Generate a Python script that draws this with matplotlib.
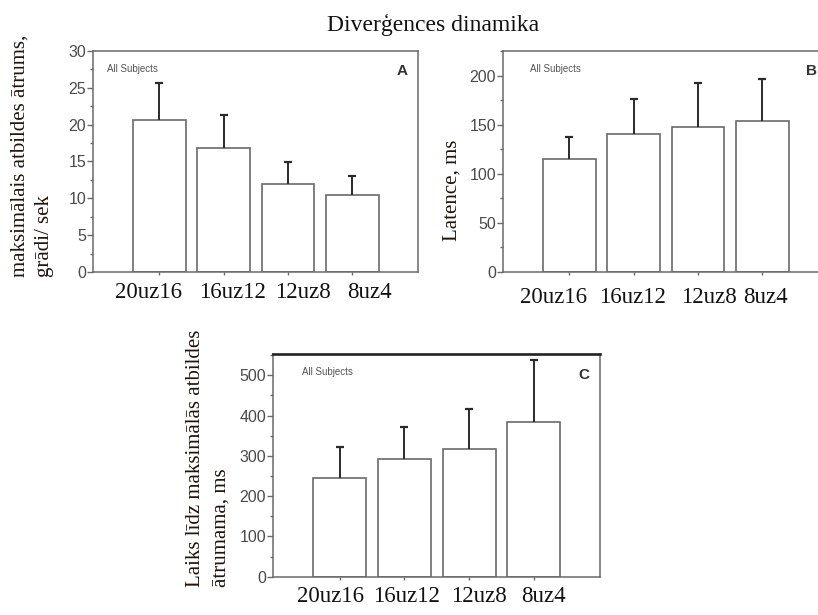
import numpy as np
import matplotlib
matplotlib.use("Agg")
import matplotlib.pyplot as plt
from matplotlib.ticker import MultipleLocator, AutoMinorLocator
from matplotlib.transforms import blended_transform_factory

# data
groups = ["20uz16", "16uz12", "12uz8", "8uz4"]

speed = [20.6, 16.9, 11.9, 10.4]
speed_err = [5.0, 4.4, 3.0, 2.6]

latency = [115, 140, 148, 154]
latency_err = [22, 36, 44, 42]

peak_time = [244, 292, 316, 385]
peak_time_err = [78, 80, 100, 153]

title = "Diverģences dinamika"
ylabel_a = "maksimālais atbildes ātrums,\ngrādi/ sek"
ylabel_b = "Latence, ms"
ylabel_c = "Laiks līdz maksimālās atbildes\nātrumama, ms"

SERIF = ["Liberation Serif", "DejaVu Serif"]
SANS = ["Liberation Sans", "DejaVu Sans"]
EDGE = "#6a6a6a"
TICK_TXT = "#4a4a4a"
LABEL_COL = "#20140c"


def draw_panel(fig, rect, values, errors, ylim, major, letter,
               subj_x, label_pos, label_y):
    """Draw one bar panel with one-sided error bars."""
    ax = fig.add_axes(rect)
    x = np.arange(len(values))
    ax.bar(x, values, width=0.82, color="white", edgecolor=EDGE,
           linewidth=1.2, zorder=2)
    eb = ax.errorbar(x, values, yerr=[np.zeros(len(errors)), errors],
                     fmt="none", ecolor="#2a2a2a", elinewidth=1.4,
                     capsize=2.6, capthick=1.6, zorder=3)
    # hide the lower caps (they sit on the bar tops)
    for cap in eb[1]:
        if np.allclose(cap.get_ydata(), values):
            cap.set_visible(False)

    ax.set_xlim(-1.03, 4.02)
    ax.set_ylim(*ylim)
    ax.yaxis.set_major_locator(MultipleLocator(major))
    ax.yaxis.set_minor_locator(AutoMinorLocator(2))
    ax.set_xticks(x)
    ax.tick_params(axis="x", length=2.5, width=1, color=EDGE,
                   labelbottom=False)
    ax.tick_params(axis="y", which="major", length=4, width=1,
                   color=EDGE, labelsize=11.5, labelcolor=TICK_TXT, pad=1)
    ax.tick_params(axis="y", which="minor", length=2, width=1, color=EDGE)
    for lab in ax.get_yticklabels():
        lab.set_family(SANS)
    for sp in ax.spines.values():
        sp.set_color(EDGE)
        sp.set_linewidth(1.1)

    ax.text(subj_x, 0.92, "All Subjects", transform=ax.transAxes,
            fontsize=7, color="#555555", va="center", family=SANS)
    ax.text(0.95, 0.908, letter, transform=ax.transAxes, fontsize=11,
            fontweight="bold", color="#333333", ha="center", va="center",
            family=SANS)

    tr = blended_transform_factory(ax.transData, fig.transFigure)
    for pos, name in zip(label_pos, groups):
        ax.text(pos, label_y, name, transform=tr, ha="center", va="center",
                fontsize=16.5, family=SERIF, color="#111111")
    return ax


def main():
    fig = plt.figure(figsize=(8.18, 6.15), dpi=100)

    draw_panel(fig, [0.1137, 0.5577, 0.3973, 0.3594], speed, speed_err,
               (0, 30), 5, "A", 0.043, [-0.16, 1.13, 2.23, 3.26], 0.5236)
    draw_panel(fig, [0.6149, 0.5577, 0.3973, 0.3594], latency, latency_err,
               (0, 225), 50, "B", 0.083, [-0.24, 0.98, 2.17, 3.05], 0.517)
    ax_c = draw_panel(fig, [0.3337, 0.0623, 0.3998, 0.3616], peak_time,
                      peak_time_err, (0, 552), 100, "C", 0.088,
                      [-0.14, 1.03, 2.15, 3.15], 0.0293)
    ax_c.spines["top"].set_color("#222222")
    ax_c.spines["top"].set_linewidth(1.9)

    fig.text(0.53, 0.959, title, ha="center", va="center", fontsize=17,
             family=SERIF, color="#111111")
    fig.text(0.0397, 0.55, ylabel_a, rotation=90, ha="center", va="bottom",
             multialignment="left", fontsize=15, family=SERIF,
             color=LABEL_COL, linespacing=1.35)
    fig.text(0.5526, 0.69, ylabel_b, rotation=90, ha="center", va="center",
             fontsize=15, family=SERIF, color=LABEL_COL)
    fig.text(0.2555, 0.0455, ylabel_c, rotation=90, ha="center", va="bottom",
             multialignment="left", fontsize=15, family=SERIF,
             color=LABEL_COL, linespacing=1.5)

    fig.savefig("out.png", dpi=100)


if __name__ == "__main__":
    main()
